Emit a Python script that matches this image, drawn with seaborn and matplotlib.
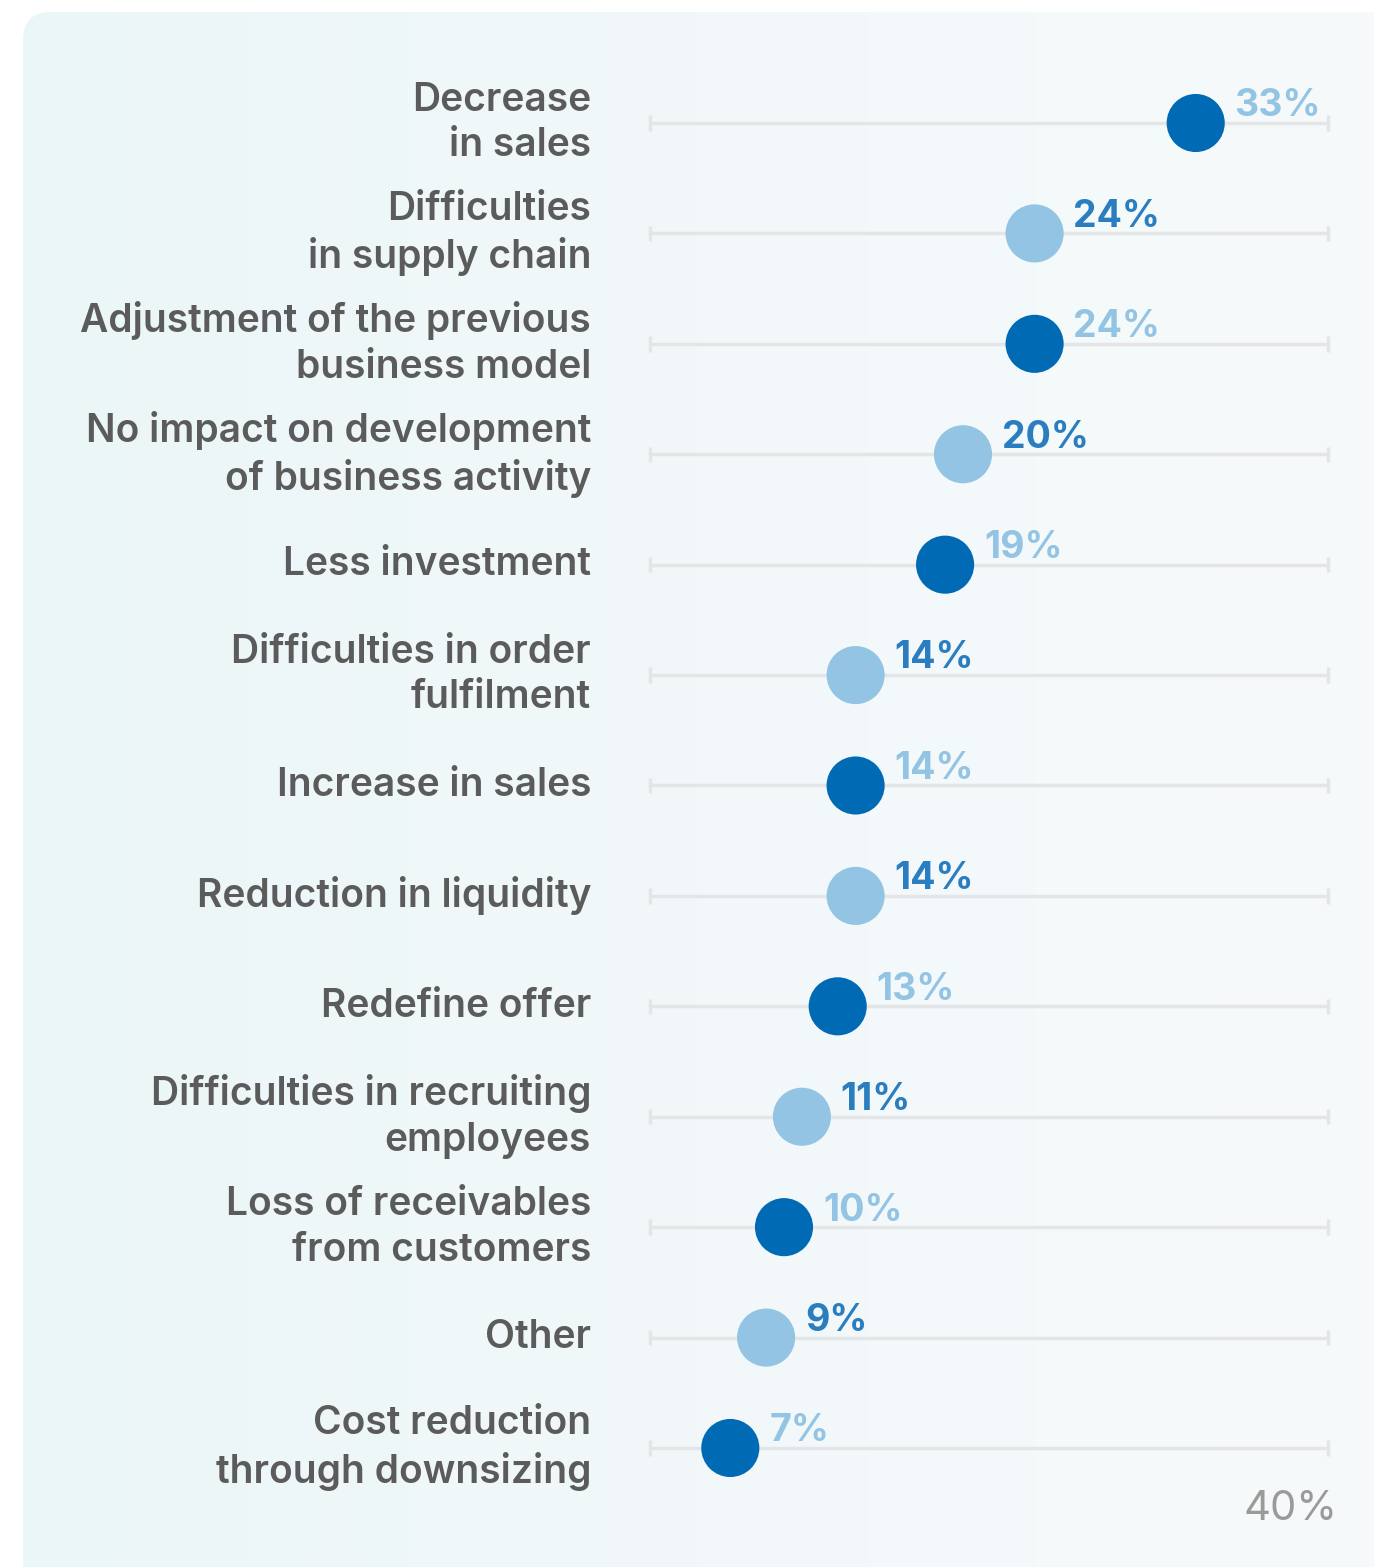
import numpy as np
import pandas as pd
import seaborn as sns
import matplotlib.pyplot as plt
from matplotlib.patches import FancyBboxPatch

categories = [
    "Decrease\nin sales",
    "Difficulties\nin supply chain",
    "Adjustment of the previous\nbusiness model",
    "No impact on development\nof business activity",
    "Less investment",
    "Difficulties in order\nfulfilment",
    "Increase in sales",
    "Reduction in liquidity",
    "Redefine offer",
    "Difficulties in recruiting\nemployees",
    "Loss of receivables\nfrom customers",
    "Other",
    "Cost reduction\nthrough downsizing",
]
values = [33, 24, 24, 20, 19, 14, 14, 14, 13, 11, 10, 9, 7]
shade = ["dark", "light"] * 6 + ["dark"]

DARK = "#006ab4"
LIGHT = "#93c4e3"
LABEL_ON_LIGHT = "#2a7dbf"
GREY_TEXT = "#5b5b5b"

df = pd.DataFrame({"category": categories, "value": values, "shade": shade})
df["row"] = np.arange(len(df))

sns.set_theme(style="white")
plt.rcParams["font.family"] = ["Inter", "DejaVu Sans"]

fig = plt.figure(figsize=(13.74, 15.67), dpi=100)
fig.patch.set_facecolor("white")
W, H = 1374, 1567

# background panel with soft gradient
bg = fig.add_axes([0, 0, 1, 1])
bg.set_xlim(0, W)
bg.set_ylim(H, 0)
bg.axis("off")
grad = np.linspace(0, 1, 256).reshape(1, -1)
cmap = sns.blend_palette(["#ebf6f7", "#f2f8fa", "#f6fafb"], as_cmap=True)
img = bg.imshow(grad, extent=[23, W, H, 12], cmap=cmap, aspect="auto")
panel = FancyBboxPatch((23, 12), W - 23 + 40, H - 12 + 40,
                       boxstyle="round,pad=0,rounding_size=28",
                       facecolor="none", edgecolor="none")
bg.add_patch(panel)
img.set_clip_path(panel)

# main axes: 0% at x=605px, 40% at x=1321px; rows from y=123 to 1448
x0, x40 = 605, 1321
top, bottom = 123 - 55.2, 1448 + 55.2
ax = fig.add_axes([x0 / W, 1 - bottom / H, (x40 - x0) / W, (bottom - top) / H])
ax.set_xlim(0, 40)
ax.set_ylim(len(df) - 0.5, -0.5)
ax.axis("off")
ax.patch.set_alpha(0)

line_start, line_end = 2.5, 40.4
ax.hlines(df["row"], line_start, line_end, color="#e3e5e7", lw=2.5, zorder=1, clip_on=False)
for r in df["row"]:
    ax.vlines([line_start, line_end], r - 0.07, r + 0.07, color="#e3e5e7", lw=2.5,
              zorder=1, clip_on=False)

sns.scatterplot(data=df, x="value", y="row", hue="shade",
                palette={"dark": DARK, "light": LIGHT},
                s=1750, linewidth=0, legend=False, ax=ax, zorder=3)

for _, rrow in df.iterrows():
    col = LIGHT if rrow["shade"] == "dark" else LABEL_ON_LIGHT
    ax.annotate(f"{rrow['value']}%", (rrow["value"], rrow["row"]),
                xytext=(28, -1), textcoords="offset points",
                ha="left", va="bottom", fontsize=27, fontweight="bold",
                color=col, zorder=4)
    ax.annotate(rrow["category"], (0, rrow["row"]), xycoords=("axes fraction", "data"),
                xytext=(-10, 0), textcoords="offset points",
                ha="right", va="center", fontsize=28, fontweight="semibold",
                color=GREY_TEXT, linespacing=1.3)

fig.text(1291 / W, 1 - 1509 / H, "40%", ha="center", va="center",
         fontsize=30, fontweight="normal", color="#9a9a9a")

fig.savefig("out.png", dpi=100, facecolor=fig.get_facecolor())
